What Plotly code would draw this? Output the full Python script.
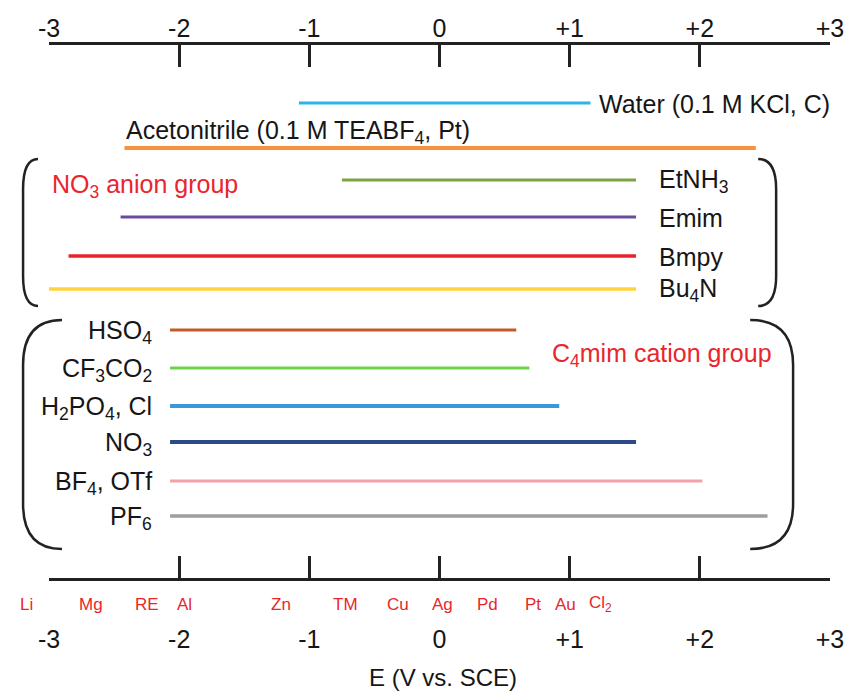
import plotly.graph_objects as go

# ---------------- data ----------------
TICK_VALS = [-3, -2, -1, 0, 1, 2, 3]
TICK_TEXT = ["-3", "-2", "-1", "0", "+1", "+2", "+3"]

SERIES_NAMES = ["Water (0.1 M KCl, C)", "Acetonitrile (0.1 M TEABF<sub>4</sub>, Pt)",
                "EtNH<sub>3</sub>", "Emim", "Bmpy", "Bu<sub>4</sub>N",
                "HSO<sub>4</sub>", "CF<sub>3</sub>CO<sub>2</sub>", "H<sub>2</sub>PO<sub>4</sub>, Cl",
                "NO<sub>3</sub>", "BF<sub>4</sub>, OTf", "PF<sub>6</sub>"]
E_START = [-1.08, -2.42, -0.75, -2.45, -2.85, -3.0, -2.07, -2.07, -2.07, -2.07, -2.07, -2.07]
E_END = [1.16, 2.43, 1.51, 1.51, 1.51, 1.51, 0.59, 0.69, 0.92, 1.51, 2.02, 2.52]

ELEMENTS = ["Li", "Mg", "RE", "Al", "Zn", "TM", "Cu", "Ag", "Pd", "Pt", "Au", "Cl<sub>2</sub>"]
ELEMENT_E = [-3.17, -2.68, -2.25, -1.96, -1.22, -0.72, -0.32, 0.02, 0.37, 0.72, 0.97, 1.24]

# ---------------- style / layout ----------------
COLORS = ["#2BB4E6", "#F7913D", "#7BA345", "#6A4C9C", "#E8232A", "#FFD33D",
          "#C35A26", "#6DD44A", "#3A98DA", "#2C4A8A", "#F3A2A8", "#9E9E9E"]
WIDTHS = [3, 4, 3, 3, 3.5, 3.5, 3, 3, 4, 4, 3, 3.5]
ROW_Y = [103, 148, 180, 217, 256, 289, 330, 368, 406, 442, 481, 516]
LABEL_MODE = ["right", "above", "right", "right", "right", "right",
              "left", "left", "left", "left", "left", "left"]

W, H = 856, 693
ML, MR, MT, MB = 49, 24, 45, 115
X_RANGE = [-3, 3]
FONT = "Liberation Sans, Arial, sans-serif"
RED = "#E8262C"
INK = "#161616"
LABEL_SIZE = 25

fig = go.Figure()
for name, s, e, c, w, y in zip(SERIES_NAMES, E_START, E_END, COLORS, WIDTHS, ROW_Y):
    fig.add_trace(go.Scatter(x=[s, e], y=[y, y], mode="lines",
                             line=dict(color=c, width=w), hoverinfo="skip",
                             showlegend=False, cliponaxis=False))
# invisible trace for the top axis
fig.add_trace(go.Scatter(x=X_RANGE, y=[45, 45], xaxis="x2", mode="lines",
                         line=dict(width=0), showlegend=False, hoverinfo="skip"))


def py(yp):
    return (H - MB - yp) / (H - MT - MB)


def px(xp):
    return (xp - ML) / (W - ML - MR)


def e_to_paper(ev):
    return (ev - X_RANGE[0]) / (X_RANGE[1] - X_RANGE[0])


annotations = []
for name, s, e, y, mode in zip(SERIES_NAMES, E_START, E_END, ROW_Y, LABEL_MODE):
    f = dict(size=LABEL_SIZE, color=INK, family=FONT)
    if mode == "right":
        shift = 7 if y < 120 else 21
        annotations.append(dict(x=e, y=y, text=name, xanchor="left", yanchor="middle",
                                xshift=shift, yshift=-1, showarrow=False, font=f))
    elif mode == "above":
        annotations.append(dict(x=s, y=y, text=name, xanchor="left", yanchor="bottom",
                                xshift=-1, yshift=-2, showarrow=False, font=f))
    else:
        annotations.append(dict(x=s, y=y, text=name, xanchor="right", yanchor="middle",
                                xshift=-16, yshift=-2, showarrow=False, font=f))

annotations.append(dict(x=-2.99, y=186, text="NO<sub>3</sub> anion group", xanchor="left",
                        yanchor="middle", showarrow=False,
                        font=dict(size=LABEL_SIZE, color=RED, family=FONT)))
annotations.append(dict(x=0.85, y=355, text="C<sub>4</sub>mim cation group", xanchor="left",
                        yanchor="middle", showarrow=False,
                        font=dict(size=LABEL_SIZE, color=RED, family=FONT)))
for el, ev in zip(ELEMENTS, ELEMENT_E):
    annotations.append(dict(x=e_to_paper(ev), xref="paper", y=py(604), yref="paper", text=el,
                            xanchor="center", yanchor="middle", showarrow=False,
                            font=dict(size=17, color=RED, family=FONT)))
annotations.append(dict(x=0.03, xref="x", y=py(677), yref="paper", text="E (V vs. SCE)",
                        xanchor="center", yanchor="middle", showarrow=False,
                        font=dict(size=24, color=INK, family=FONT)))


def bracket(x_end, x_out, y_top, y_bot, r):
    return (f"M {px(x_end)},{py(y_top)} Q {px(x_out)},{py(y_top)} {px(x_out)},{py(y_top + r)} "
            f"L {px(x_out)},{py(y_bot - r)} Q {px(x_out)},{py(y_bot)} {px(x_end)},{py(y_bot)}")


shapes = []
for (xe, xo, yt, yb, r) in [(38, 23, 159, 306, 30), (760, 778, 159, 306, 30),
                            (62, 23, 320, 549, 45), (752, 795, 320, 549, 45)]:
    shapes.append(dict(type="path", xref="paper", yref="paper", path=bracket(xe, xo, yt, yb, r),
                       line=dict(color="#222", width=2.5)))

axis_common = dict(range=X_RANGE, tickvals=TICK_VALS, ticktext=TICK_TEXT, ticks="inside",
                   ticklen=22, tickwidth=2.5, tickcolor="#222", showline=True, linewidth=3,
                   linecolor="#222", showgrid=False, zeroline=False,
                   tickfont=dict(size=25, color=INK, family=FONT))

fig.update_layout(
    width=W, height=H, margin=dict(l=ML, r=MR, t=MT, b=MB),
    paper_bgcolor="white", plot_bgcolor="white",
    xaxis=dict(**axis_common, side="bottom", ticklabelstandoff=37),
    xaxis2=dict(**axis_common, side="top", overlaying="x", matches="x", ticklabelstandoff=-5),
    yaxis=dict(range=[H - MB, MT], visible=False, showgrid=False, zeroline=False),
    annotations=annotations, shapes=shapes, showlegend=False,
)

fig.write_html("out.html")
